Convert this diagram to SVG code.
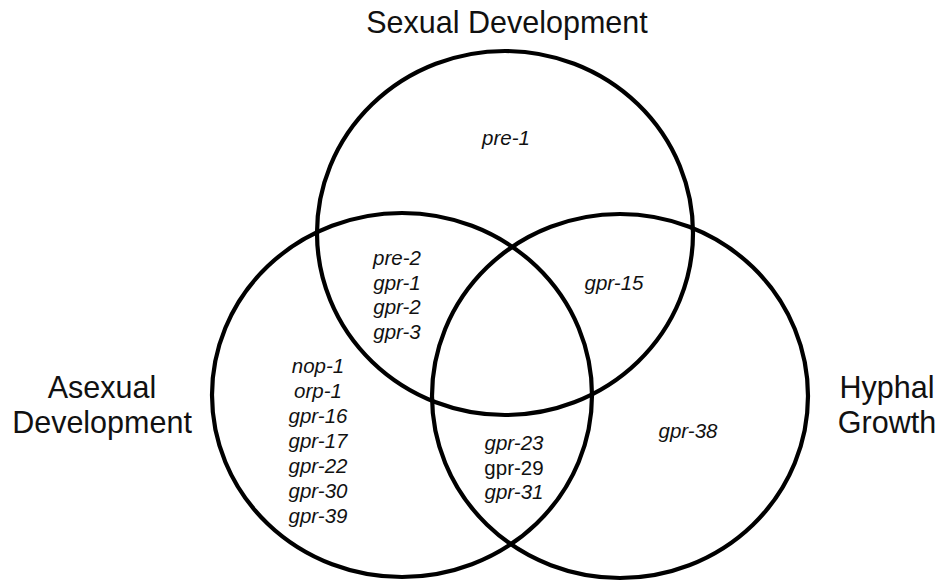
<svg xmlns="http://www.w3.org/2000/svg" width="939" height="581" viewBox="0 0 939 581">
  <style>
    .set { fill: none; stroke: #000; stroke-width: 4.2; }
    .title { font-family: "Liberation Sans", Arial, sans-serif; font-size: 30.5px; fill: #111; text-anchor: middle; }
    .gene { font-family: "Liberation Sans", Arial, sans-serif; font-size: 20.5px; font-style: italic; fill: #111; text-anchor: middle; }
    .upright { font-style: normal; }
  </style>
  <rect width="939" height="581" fill="#fff"/>
  <g id="sexual">
    <ellipse class="set" cx="505" cy="233" rx="188" ry="182"/>
    <text class="title" x="507" y="33">Sexual Development</text>
  </g>
  <g id="asexual">
    <ellipse class="set" cx="402" cy="395" rx="190" ry="182"/>
    <text class="title" x="102" y="398">Asexual</text>
    <text class="title" x="102" y="433">Development</text>
  </g>
  <g id="hyphal">
    <ellipse class="set" cx="620" cy="396" rx="188" ry="182"/>
    <text class="title" x="887" y="398">Hyphal</text>
    <text class="title" x="887" y="433">Growth</text>
  </g>
  <g id="sexual-only">
    <text class="gene" x="506" y="145">pre-1</text>
  </g>
  <g id="sexual-asexual">
    <text class="gene" x="397" y="265">pre-2</text>
    <text class="gene" x="397" y="290">gpr-1</text>
    <text class="gene" x="397" y="314">gpr-2</text>
    <text class="gene" x="397" y="339">gpr-3</text>
  </g>
  <g id="sexual-hyphal">
    <text class="gene" x="614" y="290">gpr-15</text>
  </g>
  <g id="asexual-only">
    <text class="gene" x="318" y="373">nop-1</text>
    <text class="gene" x="318" y="398">orp-1</text>
    <text class="gene" x="318" y="423">gpr-16</text>
    <text class="gene" x="318" y="448">gpr-17</text>
    <text class="gene" x="318" y="473">gpr-22</text>
    <text class="gene" x="318" y="498">gpr-30</text>
    <text class="gene" x="318" y="523">gpr-39</text>
  </g>
  <g id="asexual-hyphal">
    <text class="gene" x="514" y="450">gpr-23</text>
    <text class="gene upright" x="514" y="475">gpr-29</text>
    <text class="gene" x="514" y="499">gpr-31</text>
  </g>
  <g id="hyphal-only">
    <text class="gene" x="688" y="438">gpr-38</text>
  </g>
</svg>
